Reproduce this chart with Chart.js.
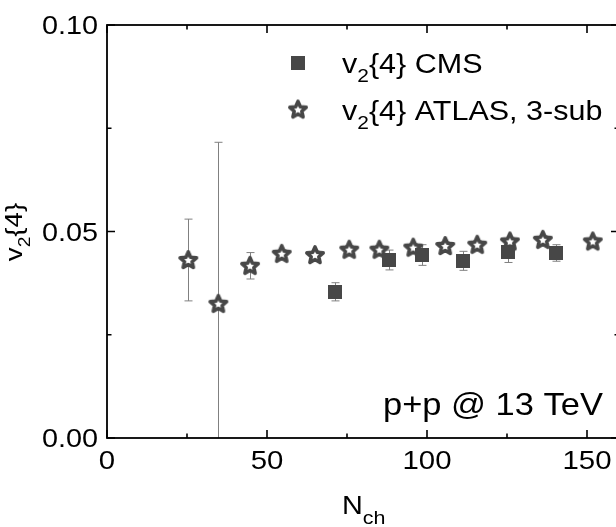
<!DOCTYPE html>
<html>
<head>
<meta charset="utf-8">
<script src="https://cdn.jsdelivr.net/npm/chart.js@4"></script>
<style>
  html, body { margin: 0; padding: 0; background: #fff; overflow: hidden; }
  #wrap { width: 616px; height: 527px; overflow: hidden; }
</style>
</head>
<body>
<div id="wrap"><canvas id="v2Chart" width="625" height="527"></canvas></div>
<script>
// v2{4} vs Nch, p+p @ 13 TeV
const atlasX = [25.4, 34.8, 44.7, 54.6, 65.0, 75.7, 85.1, 95.7, 105.7, 115.7, 125.9, 136.2, 151.8];
const atlasY = [0.0431, 0.0325, 0.0417, 0.0446, 0.0443, 0.0456, 0.0456, 0.0461, 0.0465, 0.0468, 0.0476, 0.0480, 0.0476];
const atlasErr = [0.0099, 0.0391, 0.0032, 0.0010, 0.0010, 0.0010, 0.0010, 0.0010, 0.0010, 0.0010, 0.0010, 0.0010, 0.0010];

const cmsX = [71.3, 88.0, 98.3, 111.3, 125.2, 140.2];
const cmsY = [0.0354, 0.0431, 0.0443, 0.0429, 0.0450, 0.0448];
const cmsErr = [0.0022, 0.0024, 0.0025, 0.0023, 0.0025, 0.0020];

const xMajor = [0, 50, 100, 150];
const xMinor = [25, 75, 125];
const yMajor = [0, 0.05, 0.10];
const yMinor = [0.025, 0.075];

const FONT = '"Liberation Sans", Arial, sans-serif';
const SX = 1.13; // text in the figure is a bit wider than Arial
const MARK = '#474747';

function squareMarker() {
  const c = document.createElement('canvas');
  c.width = 14; c.height = 14;
  const g = c.getContext('2d');
  g.fillStyle = MARK;
  g.fillRect(0, 0, 14, 14);
  return c;
}

function starMarker() {
  const c = document.createElement('canvas');
  c.width = 24; c.height = 24;
  const g = c.getContext('2d');
  const R = 8.6, r = 4.0;
  g.beginPath();
  for (let i = 0; i < 10; i++) {
    const a = -Math.PI / 2 + i * Math.PI / 5;
    const rr = i % 2 === 0 ? R : r;
    const px = 12 + rr * Math.cos(a), py = 12.5 + rr * Math.sin(a);
    if (i === 0) g.moveTo(px, py); else g.lineTo(px, py);
  }
  g.closePath();
  g.fillStyle = '#fff';
  g.fill();
  g.lineWidth = 3.6;
  g.lineJoin = 'round';
  g.strokeStyle = MARK;
  g.stroke();
  return c;
}

const sqImg = squareMarker();
const starImg = starMarker();

// parts: [text, size, dy]
function richWidth(ctx, parts) {
  let w = 0;
  parts.forEach(p => { ctx.font = p[1] + 'px ' + FONT; w += ctx.measureText(p[0]).width; });
  return w;
}
function drawRich(ctx, parts, x, y, align, rot) {
  ctx.save();
  ctx.translate(x, y);
  if (rot) ctx.rotate(rot);
  ctx.scale(SX, 1);
  const w = richWidth(ctx, parts);
  let cx = align === 'right' ? -w : align === 'center' ? -w / 2 : 0;
  ctx.fillStyle = '#000';
  ctx.textBaseline = 'alphabetic';
  ctx.textAlign = 'left';
  parts.forEach(p => {
    ctx.font = p[1] + 'px ' + FONT;
    ctx.fillText(p[0], cx, p[2] || 0);
    cx += ctx.measureText(p[0]).width;
  });
  ctx.restore();
}

const errorBars = {
  id: 'errorBars',
  beforeDatasetsDraw(chart) {
    const ctx = chart.ctx, xs = chart.scales.x, ys = chart.scales.y, area = chart.chartArea;
    const sets = [[cmsX, cmsY, cmsErr], [atlasX, atlasY, atlasErr]];
    ctx.save();
    ctx.beginPath();
    ctx.rect(area.left, area.top, area.right - area.left, area.bottom - area.top);
    ctx.clip();
    ctx.strokeStyle = '#808080';
    ctx.lineWidth = 1;
    sets.forEach(([X, Y, E]) => {
      X.forEach((xv, i) => {
        const px = Math.round(xs.getPixelForValue(xv)) + 0.5;
        const top = ys.getPixelForValue(Y[i] + E[i]);
        const bot = ys.getPixelForValue(Y[i] - E[i]);
        ctx.beginPath();
        ctx.moveTo(px, top); ctx.lineTo(px, bot);
        ctx.moveTo(px - 4, top); ctx.lineTo(px + 4, top);
        ctx.moveTo(px - 4, bot); ctx.lineTo(px + 4, bot);
        ctx.stroke();
      });
    });
    ctx.restore();
  }
};

const frame = {
  id: 'frame',
  afterDraw(chart) {
    const ctx = chart.ctx, xs = chart.scales.x, ys = chart.scales.y, a = chart.chartArea;
    ctx.save();
    ctx.strokeStyle = '#000';
    ctx.lineWidth = 1.8;
    ctx.strokeRect(a.left, a.top, a.right - a.left, a.bottom - a.top);
    ctx.lineWidth = 1.6;
    ctx.beginPath();
    const xt = (v, len) => {
      const p = xs.getPixelForValue(v);
      ctx.moveTo(p, a.bottom); ctx.lineTo(p, a.bottom - len);
      ctx.moveTo(p, a.top); ctx.lineTo(p, a.top + len);
    };
    const yt = (v, len) => {
      const p = ys.getPixelForValue(v);
      ctx.moveTo(a.left, p); ctx.lineTo(a.left + len, p);
      ctx.moveTo(a.right, p); ctx.lineTo(a.right - len, p);
    };
    xMajor.forEach(v => xt(v, 8));
    xMinor.forEach(v => xt(v, 4.5));
    yMajor.forEach(v => yt(v, 8));
    yMinor.forEach(v => yt(v, 4.5));
    ctx.stroke();
    ctx.restore();

    // tick labels
    yMajor.forEach(v => {
      drawRich(ctx, [[v.toFixed(2), 25.5]], 98, ys.getPixelForValue(v) + 9, 'right');
    });
    xMajor.forEach(v => {
      drawRich(ctx, [[String(v), 26]], xs.getPixelForValue(v), 469, 'center');
    });

    // axis titles
    drawRich(ctx, [['N', 25.5], ['ch', 19, 10]], 342, 513.5, 'left');
    drawRich(ctx, [['v', 24.5], ['2', 17, 8], ['{4}', 24.5]], 22, 232, 'center', -Math.PI / 2);

    // legend
    ctx.drawImage(sqImg, 291, 56);
    ctx.drawImage(starImg, 286, 97.5);
    drawRich(ctx, [['v', 27], ['2', 18.5, 9], ['{4} CMS', 27]], 342, 73, 'left');
    drawRich(ctx, [['v', 27], ['2', 18.5, 9], ['{4} ATLAS, 3-sub', 27]], 342, 119.5, 'left');

    // system label
    drawRich(ctx, [['p+p @ 13 TeV', 30.5]], 383, 415, 'left');
  }
};

const pts = (X, Y) => X.map((x, i) => ({ x: x, y: Y[i] }));

new Chart(document.getElementById('v2Chart'), {
  type: 'scatter',
  data: {
    datasets: [
      { label: 'v2{4} CMS', data: pts(cmsX, cmsY), pointStyle: sqImg },
      { label: 'v2{4} ATLAS, 3-sub', data: pts(atlasX, atlasY), pointStyle: starImg }
    ]
  },
  options: {
    responsive: false,
    animation: false,
    layout: { padding: { left: 0, top: 25, right: 6, bottom: 0 } },
    plugins: { legend: { display: false }, tooltip: { enabled: false } },
    scales: {
      x: {
        type: 'linear', min: 0, max: 160,
        ticks: { display: false }, grid: { display: false }, border: { display: false },
        afterFit: s => { s.height = 89; }
      },
      y: {
        min: 0, max: 0.1,
        ticks: { display: false }, grid: { display: false }, border: { display: false },
        afterFit: s => { s.width = 107; }
      }
    }
  },
  plugins: [errorBars, frame]
});
</script>
</body>
</html>
